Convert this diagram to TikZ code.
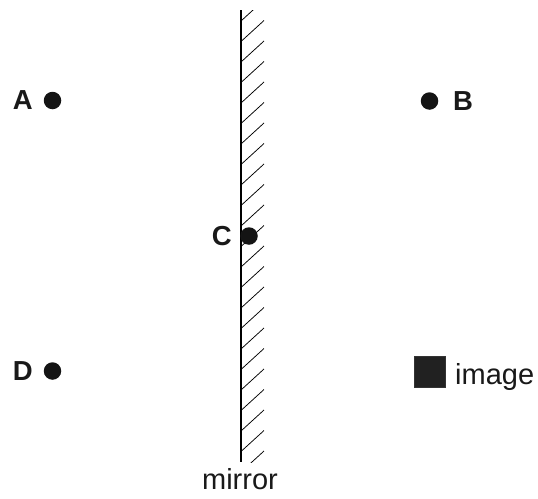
\documentclass[tikz,border=0pt]{standalone}
\usepackage{fontspec}
\setmainfont{Liberation Sans}
\begin{document}
\begin{tikzpicture}[x=1pt,y=-1pt,
  dot/.style={circle,fill=black!92,inner sep=0pt,minimum size=17.5pt},
  lbl/.style={font=\fontsize{27.5}{30}\selectfont\bfseries,inner sep=0pt,text=black!90},
  txt/.style={font=\fontsize{29}{32}\selectfont,inner sep=0pt,text=black!90}]
\useasboundingbox (0,0) rectangle (538,498);
% hatching
\begin{scope}
\clip (241,10) rectangle (264,462);
\foreach \k in {0,...,23} {
  \draw[line width=0.75pt] (241,{21+20.5*\k}) -- (264,{21+20.5*\k-21});
}
\end{scope}
\draw[line width=2.5pt] (241,10) -- (241,462);
\node[txt,anchor=base] (mirror) at (240,489) {mirror};
% points
\node[dot] (A) at (52.5,100.5) {};
\node[lbl,anchor=base east] (Al) at (33,109) {A};
\node[dot] (B) at (429.5,101) {};
\node[lbl,anchor=base west] (Bl) at (453,110) {B};
\node[dot] (C) at (249,236) {};
\node[lbl,anchor=base east] (Cl) at (232,245) {C};
\node[dot] (D) at (52.5,371) {};
\node[lbl,anchor=base east] (Dl) at (33,380) {D};
\node[fill=black!87,draw=black!80,minimum size=31pt,inner sep=0pt] (img) at (430,372) {};
\node[txt,anchor=base west] (imgl) at (455,384) {image};
\end{tikzpicture}
\end{document}
